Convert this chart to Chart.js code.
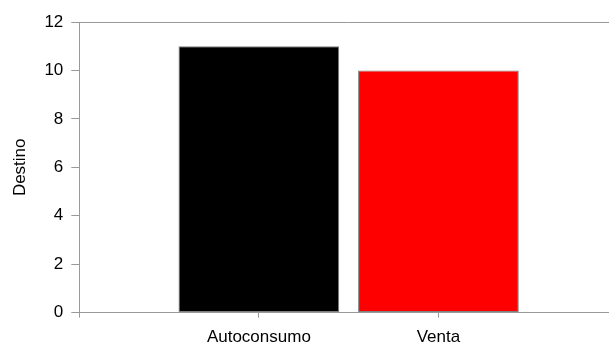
<!DOCTYPE html>
<html>
<head>
<meta charset="utf-8">
<script src="https://cdn.jsdelivr.net/npm/chart.js@4"></script>
<style>
  html, body { margin: 0; padding: 0; background: #fff; overflow: hidden; }
  .wrap { width: 628px; height: 360px; }
</style>
</head>
<body>
<div class="wrap"><canvas class="chart"></canvas></div>
<script>
const categories = ["Autoconsumo", "Venta"];
const values = [11, 10];
const barColors = ["#000000", "#ff0000"];
const yTicks = [0, 2, 4, 6, 8, 10, 12];

// empty slots on both ends so the axis runs past the bars like the original
const labels = ["", ...categories, ""];
const data = [null, ...values, null];
const colors = ["#fff", ...barColors, "#fff"];

const frameTop = {
  id: "frameTop",
  afterDraw(chart) {
    const { ctx, chartArea } = chart;
    ctx.save();
    ctx.strokeStyle = "#999";
    ctx.lineWidth = 1;
    ctx.beginPath();
    ctx.moveTo(chartArea.left, chartArea.top + 0.5);
    ctx.lineTo(chartArea.right, chartArea.top + 0.5);
    ctx.stroke();
    ctx.restore();
  },
};

const ctx = document.querySelector(".chart");

new Chart(ctx, {
  type: "bar",
  data: {
    labels: labels,
    datasets: [
      {
        label: "Destino",
        data: data,
        backgroundColor: colors,
        borderColor: "#808080",
        borderWidth: 1,
        borderSkipped: false,
        barPercentage: 0.895,
        categoryPercentage: 1,
      },
    ],
  },
  plugins: [frameTop],
  options: {
    responsive: true,
    maintainAspectRatio: false,
    animation: false,
    layout: {
      padding: { top: 22, left: 10, right: 0, bottom: 2 },
    },
    scales: {
      x: {
        offset: false,
        grid: {
          offset: false,
          drawOnChartArea: false,
          tickLength: 5,
          tickColor: "#999",
        },
        border: { color: "#999" },
        ticks: {
          color: "#000",
          font: { family: "Liberation Sans, Arial", size: 17 },
          padding: 10,
          maxRotation: 0,
          autoSkip: false,
        },
      },
      y: {
        min: 0,
        max: 12,
        afterBuildTicks: (axis) => {
          axis.ticks = yTicks.map((v) => ({ value: v }));
        },
        grid: {
          drawOnChartArea: false,
          tickLength: 8,
          tickColor: "#999",
        },
        border: { color: "#999" },
        ticks: {
          color: "#000",
          font: { family: "Liberation Sans, Arial", size: 17 },
          padding: 8,
        },
        title: {
          display: true,
          text: "Destino",
          color: "#000",
          font: { family: "Liberation Sans, Arial", size: 17 },
          padding: { top: 0, bottom: 6 },
        },
      },
    },
    plugins: {
      legend: { display: false },
      tooltip: { enabled: false },
    },
  },
});
</script>
</body>
</html>
